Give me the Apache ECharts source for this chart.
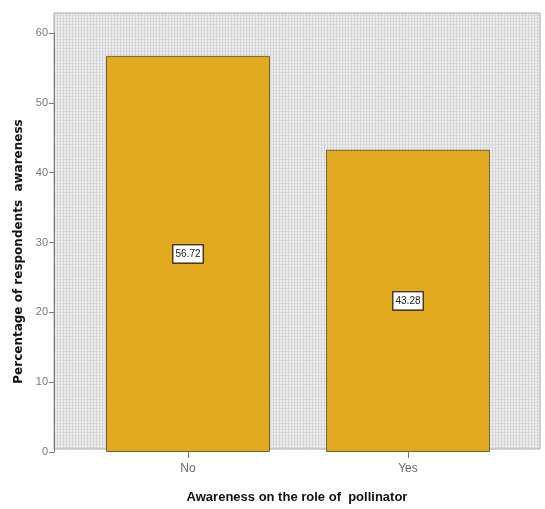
<!DOCTYPE html>
<html>
<head>
<meta charset="utf-8">
<script src="https://cdn.jsdelivr.net/npm/echarts@6/dist/echarts.min.js"></script>
<style>
  html, body { margin: 0; padding: 0; background: #ffffff; }
  #chart { width: 545px; height: 509px; }
</style>
</head>
<body>
<div id="chart"></div>
<script>
// Awareness categories and the percentage of respondents in each
const categories = ['No', 'Yes'];
const percentages = [56.72, 43.28];
const yTicks = { min: 0, max: 60, interval: 10 };

// Fine dotted fill for the plot background
function makeDotPattern() {
  const c = document.createElement('canvas');
  c.width = 3; c.height = 3;
  const g = c.getContext('2d');
  g.fillStyle = '#efefef';
  g.fillRect(0, 0, 3, 3);
  g.fillStyle = '#d2d2d4';
  g.fillRect(0, 0, 1, 3);
  g.fillStyle = '#dadadc';
  g.fillRect(0, 0, 3, 1);
  return c;
}

const chart = echarts.init(document.getElementById('chart'), null, { renderer: 'canvas' });
const font = 'Liberation Sans, Arial, sans-serif';

chart.setOption({
  animation: false,
  backgroundColor: '#ffffff',
  grid: [
    // plot frame with textured fill
    { left: 54, right: 5, top: 13, bottom: 57, show: true,
      backgroundColor: { image: makeDotPattern(), repeat: 'repeat' },
      borderColor: '#a8a8a8', borderWidth: 1 },
    // value axis area
    { left: 54, right: 5, top: 33, bottom: 57 },
    // bars, category centres span this grid
    { left: 188, right: 137, top: 33, bottom: 57 }
  ],
  xAxis: [
    { gridIndex: 0, type: 'value', min: 0, max: 1,
      axisLine: { show: false }, axisTick: { show: false }, axisLabel: { show: false },
      splitLine: { show: false },
      name: 'Awareness on the role of  pollinator', nameLocation: 'middle', nameGap: 42,
      nameTextStyle: { fontFamily: font, fontWeight: 'bold', fontSize: 13, color: '#111' } },
    { gridIndex: 1, type: 'value', show: false },
    { gridIndex: 2, type: 'category', data: categories, boundaryGap: false,
      axisLine: { show: false },
      axisTick: { show: true, length: 6, lineStyle: { color: '#777' } },
      axisLabel: { fontFamily: font, fontSize: 12, color: '#666', margin: 11 } }
  ],
  yAxis: [
    { gridIndex: 0, type: 'value', min: 0, max: 1, show: false },
    { gridIndex: 1, type: 'value', min: yTicks.min, max: yTicks.max, interval: yTicks.interval,
      axisLine: { show: true, lineStyle: { color: '#7a7a7a' } },
      axisTick: { show: true, length: 5, lineStyle: { color: '#777' } },
      axisLabel: { fontFamily: font, fontSize: 11, color: '#777', margin: 6 },
      splitLine: { show: false },
      name: 'Percentage of respondents  awareness', nameLocation: 'middle', nameGap: 28,
      nameTextStyle: { fontFamily: 'DejaVu Sans, sans-serif', fontWeight: 'bold', fontSize: 12,
                       color: '#111', padding: [0, 18, 0, 0] } },
    { gridIndex: 2, type: 'value', min: yTicks.min, max: yTicks.max, show: false }
  ],
  series: [{
    type: 'bar',
    xAxisIndex: 2,
    yAxisIndex: 2,
    data: percentages,
    barWidth: 164,
    itemStyle: { color: '#e1a91d', borderColor: '#6e6532', borderWidth: 1 },
    label: {
      show: true, position: 'inside',
      formatter: p => p.value.toFixed(2),
      fontFamily: font, fontSize: 10, color: '#222',
      backgroundColor: '#ffffff', borderColor: '#4a3a10', borderWidth: 1.5,
      padding: [4, 2, 3, 2]
    }
  }]
});
</script>
</body>
</html>
